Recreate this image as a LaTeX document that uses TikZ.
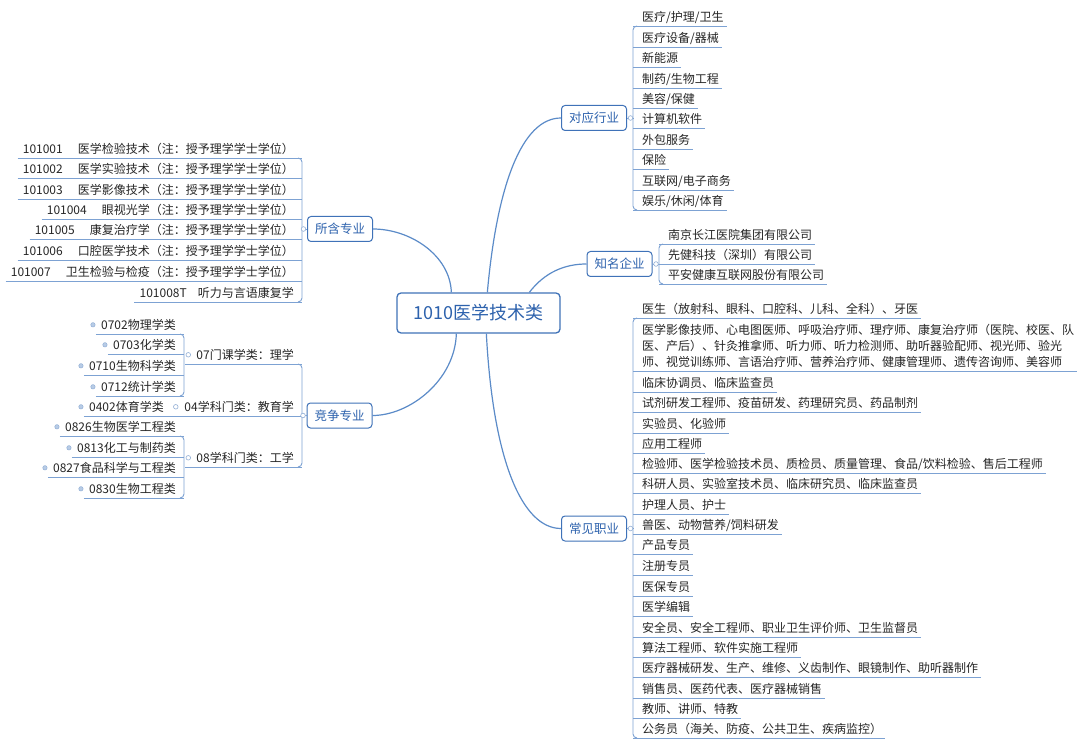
\documentclass[tikz,border=0pt]{standalone}
\usepackage{fontspec}
\newfontfamily\cjk{Noto Sans CJK SC}
\definecolor{linec}{HTML}{5B8BC8}
\definecolor{ulc}{HTML}{7DA2D3}
\definecolor{boxc}{HTML}{3F72B8}
\definecolor{btext}{HTML}{2D62AD}
\definecolor{leafc}{HTML}{262626}
\definecolor{dotc}{HTML}{B8CCE6}
\definecolor{dotr}{HTML}{92AFD6}
\newcommand\mygap{\hspace{15pt}}
\tikzset{
  rootbox/.style={draw=boxc, line width=1.3pt, rounded corners=4pt, fill=white, minimum width=163pt, minimum height=40pt, inner sep=0pt, text=btext, font=\cjk\fontsize{18}{20}\selectfont},
  branch/.style={draw=boxc, line width=1pt, rounded corners=3.5pt, fill=white, minimum width=65pt, minimum height=25pt, inner sep=0pt, text=btext, font=\cjk\fontsize{12.5}{14}\selectfont},
  uline/.style={draw=ulc, line width=0.9pt},
  mainc/.style={draw=linec, line width=1.2pt},
  coll/.style={draw=dotr, fill=white, line width=0.6pt},
  dotst/.style={draw=dotr, fill=dotc, line width=0.5pt},
  leafbase/.style={inner sep=0pt, text height=13.6pt, text depth=4.4pt, text=leafc, font=\cjk\fontsize{12}{16}\selectfont},
  rleaf/.style={leafbase, anchor=south west, append after command={([xshift=-9pt]\tikzlastnode.south west) edge[uline] ([xshift=3pt]\tikzlastnode.south east)}},
  rmulti/.style={inner sep=0pt, text depth=4.4pt, align=left, text=leafc, font=\cjk\fontsize{12}{16}\selectfont, anchor=south west, append after command={([xshift=-9pt]\tikzlastnode.south west) edge[uline] ([xshift=3pt]\tikzlastnode.south east)}},
  lleaf/.style={leafbase, anchor=south east, append after command={([xshift=-5pt]\tikzlastnode.south west) edge[uline] ([xshift=8pt]\tikzlastnode.south east)}},
  lpar/.style={leafbase, anchor=south east, append after command={([xshift=-11pt]\tikzlastnode.south west) edge[uline] ([xshift=8pt]\tikzlastnode.south east)}},
  lpartwo/.style={leafbase, anchor=south east, append after command={([xshift=-9pt]\tikzlastnode.south west) edge[uline] ([xshift=8pt]\tikzlastnode.south east)}},
  lkid/.style={leafbase, anchor=south east, append after command={([xshift=-5pt]\tikzlastnode.south west) edge[uline] ([xshift=8pt]\tikzlastnode.south east)}},
  lkidtwo/.style={leafbase, anchor=south east, append after command={([xshift=-5pt]\tikzlastnode.south west) edge[uline] ([xshift=12pt]\tikzlastnode.south east)}},
}
\begin{document}
\begin{tikzpicture}[x=1pt, y=-1pt]
\useasboundingbox[fill=white] (0,0) rectangle (1080,746);

% root and branches
\node[rootbox] (root) at (478.5,313) {1010医学技术类};
\node[branch] (b1) at (340,229) {所含专业};
\node[branch] (b2) at (339.5,415.5) {竞争专业};
\node[branch] (b3) at (594,118) {对应行业};
\node[branch] (b4) at (619.5,264) {知名企业};
\node[branch] (b5) at (594,528.5) {常见职业};

\draw[mainc] ([xshift=55pt]root.north west) .. controls (450,255) and (410,229) .. (b1.east);
\draw[mainc] ([xshift=60pt]root.south west) .. controls (455,380) and (410,415.5) .. (b2.east);
\draw[mainc] ([xshift=91pt]root.north west) .. controls (497,185) and (522,118) .. (b3.west);
\draw[mainc] ([xshift=133pt]root.north west) .. controls (545,272) and (565,264) .. (b4.west);
\draw[mainc] ([xshift=90pt]root.south west) .. controls (493,460) and (522,528.5) .. (b5.west);

% ---------- 所含专业 ----------
\node[lleaf] (l1) at (294,158) {101001\mygap 医学检验技术（注：授予理学学士学位）};
\node[lleaf] (l2) at (294,178) {101002\mygap 医学实验技术（注：授予理学学士学位）};
\node[lleaf] (l3) at (294,199) {101003\mygap 医学影像技术（注：授予理学学士学位）};
\node[lleaf] (l4) at (294,219) {101004\mygap 眼视光学（注：授予理学学士学位）};
\node[lleaf] (l5) at (294,239) {101005\mygap 康复治疗学（注：授予理学学士学位）};
\node[lleaf] (l6) at (294,260) {101006\mygap 口腔医学技术（注：授予理学学士学位）};
\node[lleaf] (l7) at (294,281) {101007\mygap 卫生检验与检疫（注：授予理学学士学位）};
\node[lleaf] (l8) at (294,302) {101008T\hspace{11pt}听力与言语康复学};
\draw[uline, rounded corners=4pt] ([xshift=4pt]l1.south east) -- ([xshift=8pt]l1.south east) -- ([xshift=8pt]l8.south east) -- ([xshift=4pt]l8.south east);
\draw[uline] (b1.west) -- ([xshift=-5.5pt]b1.west);
\draw[coll] ([xshift=-3.5pt]b1.west) circle (2.3pt);

% ---------- 竞争专业 ----------
\node[lpar] (p1) at (294,364) {07门课学类：理学};
\node[lpartwo] (p2) at (294,416) {04学科门类：教育学};
\node[lpar] (p3) at (294,467) {08学科门类：工学};
\draw[uline, rounded corners=4pt] ([xshift=4pt]p1.south east) -- ([xshift=8pt]p1.south east) -- ([xshift=8pt]p3.south east) -- ([xshift=4pt]p3.south east);
\draw[uline] (b2.west) -- ([xshift=-5.5pt]b2.west);
\draw[coll] ([xshift=-3.5pt]b2.west) circle (2.3pt);

\node[lkid] (k1) at (176,334) {0702物理学类};
\node[lkid] (k2) at (176,354) {0703化学类};
\node[lkid] (k3) at (176,375) {0710生物科学类};
\node[lkid] (k4) at (176,396) {0712统计学类};
\node[lkidtwo] (k5) at (164,416) {0402体育学类};
\node[lkid] (k6) at (176,436) {0826生物医学工程类};
\node[lkid] (k7) at (176,457) {0813化工与制药类};
\node[lkid] (k8) at (176,477) {0827食品科学与工程类};
\node[lkid] (k9) at (176,498) {0830生物工程类};
\draw[uline, rounded corners=4pt] ([xshift=4pt]k1.south east) -- ([xshift=8pt]k1.south east) -- ([xshift=8pt]k4.south east) -- ([xshift=4pt]k4.south east);
\draw[uline, rounded corners=4pt] ([xshift=4pt]k6.south east) -- ([xshift=8pt]k6.south east) -- ([xshift=8pt]k9.south east) -- ([xshift=4pt]k9.south east);
\draw[coll] ([xshift=-8pt]p1.west) circle (2.3pt);
\draw[coll] ([xshift=-8.5pt]p2.west) circle (2.3pt);
\draw[coll] ([xshift=-8pt]p3.west) circle (2.3pt);
\foreach \k in {k1,k2,k3,k4,k5,k6,k7,k8,k9} {
  \filldraw[dotst] ([xshift=-8pt]\k.west) circle (2.2pt);
}

% ---------- 对应行业 ----------
\node[rleaf] (r1) at (642,26) {医疗/护理/卫生};
\node[rleaf] (r2) at (642,47) {医疗设备/器械};
\node[rleaf] (r3) at (642,67) {新能源};
\node[rleaf] (r4) at (642,88) {制药/生物工程};
\node[rleaf] (r5) at (642,108) {美容/保健};
\node[rleaf] (r6) at (642,128) {计算机软件};
\node[rleaf] (r7) at (642,149) {外包服务};
\node[rleaf] (r8) at (642,169) {保险};
\node[rleaf] (r9) at (642,190) {互联网/电子商务};
\node[rleaf] (r10) at (642,210) {娱乐/休闲/体育};
\draw[uline, rounded corners=4pt] ([xshift=-5pt]r1.south west) -- ([xshift=-9pt]r1.south west) -- ([xshift=-9pt]r10.south west) -- ([xshift=-5pt]r10.south west);
\draw[uline] (b3.east) -- ([xshift=7pt]b3.east);
\draw[coll] ([xshift=3.5pt]b3.east) circle (2.3pt);

% ---------- 知名企业 ----------
\node[rleaf] (e1) at (668,244) {南京长江医院集团有限公司};
\node[rleaf] (e2) at (668,264) {先健科技（深圳）有限公司};
\node[rleaf] (e3) at (668,284) {平安健康互联网股份有限公司};
\draw[uline, rounded corners=4pt] ([xshift=-5pt]e1.south west) -- ([xshift=-9pt]e1.south west) -- ([xshift=-9pt]e3.south west) -- ([xshift=-5pt]e3.south west);
\draw[uline] (b4.east) -- ([xshift=7pt]b4.east);
\draw[coll] ([xshift=3.5pt]b4.east) circle (2.3pt);

% ---------- 常见职业 ----------
\node[rleaf] (j1) at (642,318) {医生（放射科、眼科、口腔科、儿科、全科）、牙医};
\node[rmulti] (j2) at (642,371) {医学影像技师、心电图医师、呼吸治疗师、理疗师、康复治疗师（医院、校医、队\\医、产后）、针灸推拿师、听力师、听力检测师、助听器验配师、视光师、验光\\师、视觉训练师、言语治疗师、营养治疗师、健康管理师、遗传咨询师、美容师};
\node[rleaf] (j3) at (642,392) {临床协调员、临床监查员};
\node[rleaf] (j4) at (642,412) {试剂研发工程师、疫苗研发、药理研究员、药品制剂};
\node[rleaf] (j5) at (642,433) {实验员、化验师};
\node[rleaf] (j6) at (642,453) {应用工程师};
\node[rleaf] (j7) at (642,473) {检验师、医学检验技术员、质检员、质量管理、食品/饮料检验、售后工程师};
\node[rleaf] (j8) at (642,493) {科研人员、实验室技术员、临床研究员、临床监查员};
\node[rleaf] (j9) at (642,514) {护理人员、护士};
\node[rleaf] (j10) at (642,534) {兽医、动物营养/饲料研发};
\node[rleaf] (j11) at (642,554) {产品专员};
\node[rleaf] (j12) at (642,575) {注册专员};
\node[rleaf] (j13) at (642,596) {医保专员};
\node[rleaf] (j14) at (642,616) {医学编辑};
\node[rleaf] (j15) at (642,637) {安全员、安全工程师、职业卫生评价师、卫生监督员};
\node[rleaf] (j16) at (642,657) {算法工程师、软件实施工程师};
\node[rleaf] (j17) at (642,677) {医疗器械研发、生产、维修、义齿制作、眼镜制作、助听器制作};
\node[rleaf] (j18) at (642,698) {销售员、医药代表、医疗器械销售};
\node[rleaf] (j19) at (642,718) {教师、讲师、特教};
\node[rleaf] (j20) at (642,738) {公务员（海关、防疫、公共卫生、疾病监控）};
\draw[uline, rounded corners=4pt] ([xshift=-5pt]j1.south west) -- ([xshift=-9pt]j1.south west) -- ([xshift=-9pt]j20.south west) -- ([xshift=-5pt]j20.south west);
\draw[uline] (b5.east) -- ([xshift=7pt]b5.east);
\draw[coll] ([xshift=3.5pt]b5.east) circle (2.3pt);
\end{tikzpicture}
\end{document}
